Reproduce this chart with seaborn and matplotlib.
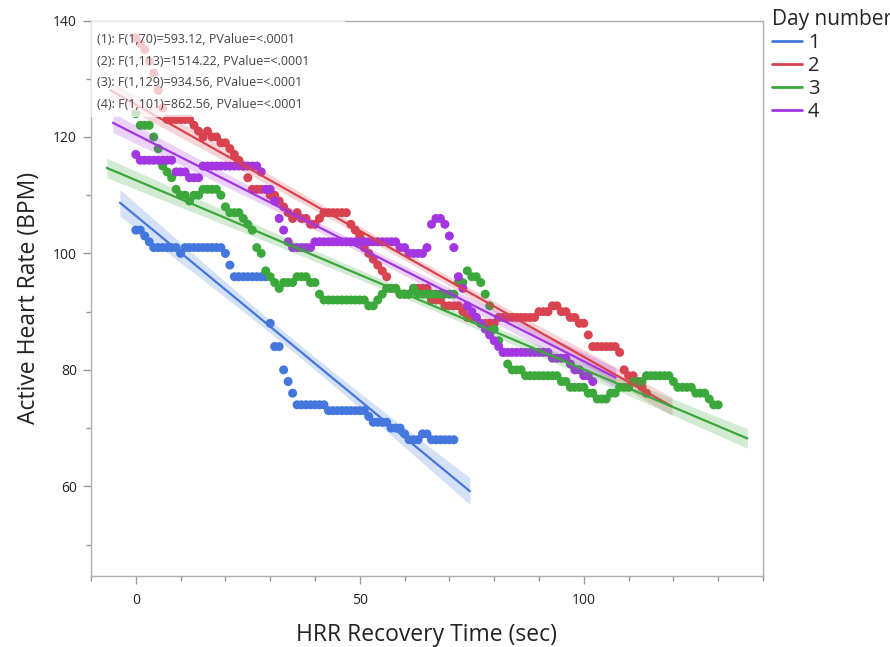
import numpy as np
import pandas as pd
import matplotlib
matplotlib.use("Agg")
import matplotlib.pyplot as plt
import seaborn as sns
from matplotlib.lines import Line2D
from matplotlib.patches import Rectangle
from matplotlib.ticker import MultipleLocator, FixedLocator

sns.set_theme(style="white")
plt.rcParams["font.family"] = ["Open Sans", "DejaVu Sans"]

# ---------------- data ----------------
days = ["1", "2", "3", "4"]
colors = ["#4477dd", "#d9434f", "#3aa83a", "#a335e3"]

# heart rate per second of recovery (time = 0, 1, 2, ...)
day1_hr = [104, 104, 103, 102, 101, 101, 101, 101, 101, 101,
           100, 101, 101, 101, 101, 101, 101, 101, 101, 101,
           100, 98, 96, 96, 96, 96, 96, 96, 96, 96,
           88, 84, 84, 80, 78, 76, 74, 74, 74, 74,
           74, 74, 74, 73, 73, 73, 73, 73, 73, 73,
           73, 73, 72, 71, 71, 71, 71, 70, 70, 70,
           69, 68, 68, 68, 69, 69, 68, 68, 68, 68,
           68, 68]

day2_hr = [137, 136, 135, 133, 131, 128, 125, 123, 123, 123,
           123, 123, 123, 122, 121, 120, 121, 120, 120, 119,
           119, 118, 117, 116, 115, 113, 111, 111, 111, 111,
           110, 110, 109, 108, 107, 106, 107, 106, 106, 105,
           105, 106, 107, 107, 107, 107, 107, 107, 105, 104,
           103, 101, 100, 99, 98, 97, 96, 94, 94, 93,
           93, 93, 94, 94, 94, 94, 92, 92, 92, 91,
           91, 91, 91, 90, 89, 89, 89, 88, 88, 88,
           88, 89, 89, 89, 89, 89, 89, 89, 89, 89,
           90, 90, 90, 91, 91, 90, 90, 89, 89, 88,
           88, 86, 84, 84, 84, 84, 84, 84, 83, 80,
           79, 79, 78, 77, 76]

day3_hr = [124, 122, 122, 122, 120, 118, 115, 114, 113, 111,
           110, 110, 109, 110, 110, 111, 111, 111, 111, 110,
           108, 107, 107, 107, 106, 105, 104, 101, 100, 97,
           96, 95, 94, 95, 95, 95, 96, 96, 96, 95,
           95, 93, 92, 92, 92, 92, 92, 92, 92, 92,
           92, 92, 91, 91, 92, 93, 94, 94, 94, 93,
           93, 93, 94, 93, 93, 93, 93, 93, 93, 93,
           93, 93, 95, 95, 97, 96, 96, 95, 93, 91,
           87, 85, 83, 81, 80, 80, 80, 79, 79, 79,
           79, 79, 79, 79, 79, 78, 78, 77, 77, 77,
           77, 76, 76, 75, 75, 75, 76, 76, 77, 77,
           77, 78, 78, 78, 79, 79, 79, 79, 79, 79,
           78, 77, 77, 77, 77, 76, 76, 76, 75, 74,
           74]

day4_hr = [117, 116, 116, 116, 116, 116, 116, 116, 116, 114,
           114, 114, 113, 113, 113, 115, 115, 115, 115, 115,
           115, 115, 115, 115, 115, 115, 115, 115, 114, 111,
           111, 109, 106, 104, 102, 101, 101, 101, 101, 101,
           102, 102, 102, 102, 102, 102, 102, 102, 102, 102,
           102, 102, 102, 102, 102, 102, 102, 102, 102, 101,
           101, 100, 100, 100, 100, 101, 105, 106, 106, 105,
           103, 101, 96, 94, 91, 90, 89, 88, 87, 86,
           85, 84, 83, 83, 83, 83, 83, 83, 83, 83,
           83, 83, 83, 82, 82, 82, 82, 81, 80, 80,
           79, 79, 78]

stats_text = ["(1): F(1,70)=593.12, PValue=<.0001",
              "(2): F(1,113)=1514.22, PValue=<.0001",
              "(3): F(1,129)=934.56, PValue=<.0001",
              "(4): F(1,101)=862.56, PValue=<.0001"]

x_label = "HRR Recovery Time (sec)"
y_label = "Active Heart Rate (BPM)"
legend_title = "Day number"
x_major = [0, 50, 100]
y_major = [60, 80, 100, 120, 140]

# ---------------- build table ----------------
frames = []
for d, hr in zip(days, [day1_hr, day2_hr, day3_hr, day4_hr]):
    frames.append(pd.DataFrame({"time": np.arange(len(hr)), "hr": hr, "day": d}))
df = pd.concat(frames, ignore_index=True)

fig = plt.figure(figsize=(8.9, 6.47), dpi=100)
ax = fig.add_axes([91 / 890, 1 - 576 / 647, 672 / 890, 555.5 / 647])

sns.scatterplot(data=df, x="time", y="hr", hue="day", hue_order=days,
                palette=dict(zip(days, colors)), s=42, linewidth=0,
                alpha=1, ax=ax, legend=False, zorder=2)


def t_quantile(dfree, z=1.959964):
    return (z + (z ** 3 + z) / (4 * dfree)
            + (5 * z ** 5 + 16 * z ** 3 + 3 * z) / (96 * dfree ** 2))


for d, c in zip(days, colors):
    sub = df[df["day"] == d]
    x = sub["time"].to_numpy(float)
    y = sub["hr"].to_numpy(float)
    n = len(x)
    slope, icpt = np.polyfit(x, y, 1)
    xr = x.max() - x.min()
    xs = np.linspace(x.min() - 0.05 * xr, x.max() + 0.05 * xr, 200)
    yhat = icpt + slope * xs
    resid = y - (icpt + slope * x)
    s = np.sqrt(np.sum(resid ** 2) / (n - 2))
    sxx = np.sum((x - x.mean()) ** 2)
    se = s * np.sqrt(1 / n + (xs - x.mean()) ** 2 / sxx)
    tq = t_quantile(n - 2)
    ax.fill_between(xs, yhat - tq * se, yhat + tq * se, color=c, alpha=0.22,
                    linewidth=0, zorder=3)
    sns.lineplot(x=xs, y=yhat, color=c, linewidth=1.6, ax=ax, zorder=4)

# ---------------- axes ----------------
ax.set_xlim(-10, 140)
ax.set_ylim(44.6, 140)
ax.xaxis.set_major_locator(FixedLocator(x_major))
ax.xaxis.set_minor_locator(MultipleLocator(10))
ax.yaxis.set_major_locator(FixedLocator(y_major))
ax.yaxis.set_minor_locator(MultipleLocator(10))
ax.tick_params(which="both", direction="out", color="#9a9a9a", width=1,
               bottom=True, left=True, labelsize=10, labelcolor="#222222")
ax.tick_params(which="major", length=6, pad=4)
ax.tick_params(axis="x", which="major", pad=6)
ax.tick_params(which="minor", length=3.5)
for sp in ax.spines.values():
    sp.set_color("#b0b0b0")
    sp.set_linewidth(1)
ax.set_xlabel(x_label, fontsize=16.5, color="#222222", labelpad=11)
ax.set_ylabel(y_label, fontsize=16.5, color="#222222", labelpad=9)

# ---------------- stats box ----------------
ax.add_patch(Rectangle((0, 1 - 0.174), 0.378, 0.174, transform=ax.transAxes,
                       facecolor="white", alpha=0.72, edgecolor="none", zorder=5))
for i, t in enumerate(stats_text):
    ax.text(0.009, 0.965 - i * 0.0387, t, transform=ax.transAxes, fontsize=9,
            color="#444444", va="center", ha="left", zorder=6)

# ---------------- legend ----------------
handles = [Line2D([0], [0], color=c, lw=2) for c in colors]
ax.legend(handles, days, title=legend_title, loc="upper left",
          bbox_to_anchor=(1.013, 1.02), frameon=False, fontsize=14.5,
          title_fontsize=15, handlelength=1.5, handletextpad=0.3,
          labelspacing=0.15, borderaxespad=0, borderpad=0, alignment="left")

fig.savefig("out.png", dpi=100)
